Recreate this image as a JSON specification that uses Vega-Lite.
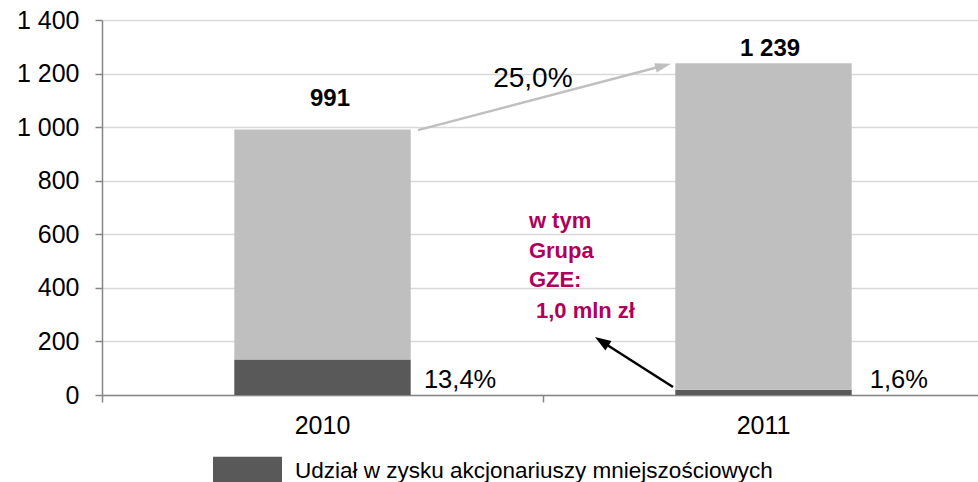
{
  "$schema": "https://vega.github.io/schema/vega-lite/v6.json",
  "width": 876,
  "height": 375,
  "autosize": {"type": "none"},
  "padding": {"left": 102, "top": 20, "right": 0, "bottom": 87},
  "background": "white",
  "config": {"font": "Liberation Sans", "view": {"stroke": null}},
  "datasets": {
    "bars": [
      {"rok": "2010", "seria": "Udział w zysku akcjonariuszy mniejszościowych", "k": 1, "wartosc": 133},
      {"rok": "2010", "seria": "Pozostała część zysku netto", "k": 2, "wartosc": 858},
      {"rok": "2011", "seria": "Udział w zysku akcjonariuszy mniejszościowych", "k": 1, "wartosc": 20},
      {"rok": "2011", "seria": "Pozostała część zysku netto", "k": 2, "wartosc": 1219}
    ],
    "sumy": [
      {"xq": 0.517, "yv": 1079, "t": "991"},
      {"xq": 1.515, "yv": 1266, "t": "1 239"}
    ],
    "udzialy": [
      {"xq": 0.812, "yv": 26, "t": "13,4%"},
      {"xq": 1.807, "yv": 26, "t": "1,6%"}
    ],
    "wzrost": [
      {"xq": 0.977, "yv": 1151, "t": "25,0%"}
    ],
    "gze": [
      {"xq": 0.968, "yv": 623, "t": "w tym"},
      {"xq": 0.968, "yv": 511, "t": "Grupa"},
      {"xq": 0.968, "yv": 403, "t": "GZE:"},
      {"xq": 0.984, "yv": 287, "t": "1,0 mln zł"}
    ],
    "strzalka_szara": [
      {"x1": 0.7166, "y1": 989, "x2": 1.2726, "y2": 1229}
    ],
    "strzalka_czarna": [
      {"x1": 1.2948, "y1": 30, "x2": 1.1331, "y2": 200}
    ]
  },
  "layer": [
    {
      "data": {"name": "bars"},
      "mark": {"type": "bar"},
      "encoding": {
        "x": {
          "field": "rok", "type": "nominal", "title": null,
          "scale": {"range": [0, 882], "paddingInner": 0.6, "paddingOuter": 0.3},
          "axis": {
            "orient": "bottom", "labelAngle": 0, "labelFontSize": 25, "labelColor": "#000000",
            "labelPadding": 18, "ticks": false,
            "domainColor": "#868686", "domainWidth": 1.5, "grid": false
          }
        },
        "y": {
          "field": "wartosc", "type": "quantitative", "stack": "zero", "title": null,
          "scale": {"domain": [0, 1400], "nice": false},
          "axis": {
            "values": [0, 200, 400, 600, 800, 1000, 1200, 1400],
            "labelExpr": "replace(format(datum.value, ','), ',', ' ')",
            "labelFontSize": 25, "labelColor": "#000000", "labelPadding": 16,
            "tickSize": 7, "tickColor": "#868686", "tickWidth": 1.5,
            "domainColor": "#868686", "domainWidth": 1.5,
            "grid": true, "gridColor": "#D9D9D9", "gridWidth": 1.5
          }
        },
        "color": {
          "field": "seria", "type": "nominal",
          "scale": {"domain": ["Udział w zysku akcjonariuszy mniejszościowych", "Pozostała część zysku netto"], "range": ["#595959", "#BFBFBF"]},
          "legend": {
            "title": null,
            "values": ["Udział w zysku akcjonariuszy mniejszościowych"],
            "orient": "none", "legendX": 111, "legendY": 416,
            "symbolType": "M-1,-0.4H1V0.4H-1Z", "symbolSize": 4761, "symbolStrokeWidth": 0,
            "labelFontSize": 22.5, "labelColor": "#000000", "labelOffset": 13, "labelLimit": 0
          }
        },
        "order": {"field": "k", "type": "quantitative"}
      }
    },
    {
      "encoding": {
        "x": {
          "field": "xq", "type": "quantitative", "title": null,
          "scale": {"domain": [0, 2], "range": [0, 882], "nice": false, "zero": false},
          "axis": {"orient": "bottom", "values": [0, 1, 2], "labels": false, "domain": false, "grid": false, "tickSize": 7, "tickColor": "#868686", "tickWidth": 1.5}
        },
        "y": {"field": "yv", "type": "quantitative", "title": null}
      },
      "layer": [
        {
          "data": {"name": "sumy"},
          "mark": {"type": "text", "fontSize": 24, "fontWeight": "bold", "align": "center", "baseline": "alphabetic", "color": "#000000"},
          "encoding": {"text": {"field": "t"}}
        },
        {
          "data": {"name": "udzialy"},
          "mark": {"type": "text", "fontSize": 25.5, "align": "center", "baseline": "alphabetic", "color": "#000000"},
          "encoding": {"text": {"field": "t"}}
        },
        {
          "data": {"name": "wzrost"},
          "mark": {"type": "text", "fontSize": 28, "align": "center", "baseline": "alphabetic", "color": "#000000"},
          "encoding": {"text": {"field": "t"}}
        },
        {
          "data": {"name": "gze"},
          "mark": {"type": "text", "fontSize": 22, "fontWeight": "bold", "align": "left", "baseline": "alphabetic", "color": "#B0005B"},
          "encoding": {"text": {"field": "t"}}
        },
        {
          "data": {"name": "strzalka_szara"},
          "mark": {"type": "rule", "color": "#BFBFBF", "strokeWidth": 2.5},
          "encoding": {
            "x": {"field": "x1", "type": "quantitative"},
            "y": {"field": "y1", "type": "quantitative"},
            "x2": {"field": "x2"},
            "y2": {"field": "y2"}
          }
        },
        {
          "data": {"name": "strzalka_szara"},
          "mark": {"type": "point", "shape": "M-1,-0.6L1,0L-1,0.6Z", "size": 256, "angle": 345, "filled": true, "color": "#BFBFBF", "opacity": 1},
          "encoding": {
            "x": {"field": "x2", "type": "quantitative"},
            "y": {"field": "y2", "type": "quantitative"}
          }
        },
        {
          "data": {"name": "strzalka_czarna"},
          "mark": {"type": "rule", "color": "#000000", "strokeWidth": 2.5},
          "encoding": {
            "x": {"field": "x1", "type": "quantitative"},
            "y": {"field": "y1", "type": "quantitative"},
            "x2": {"field": "x2"},
            "y2": {"field": "y2"}
          }
        },
        {
          "data": {"name": "strzalka_czarna"},
          "mark": {"type": "point", "shape": "M-1,-0.7L1,0L-1,0.7Z", "size": 256, "angle": 212.7, "filled": true, "color": "#000000", "opacity": 1},
          "encoding": {
            "x": {"field": "x2", "type": "quantitative"},
            "y": {"field": "y2", "type": "quantitative"}
          }
        }
      ]
    }
  ],
  "resolve": {"scale": {"x": "independent"}, "axis": {"x": "independent"}}
}
